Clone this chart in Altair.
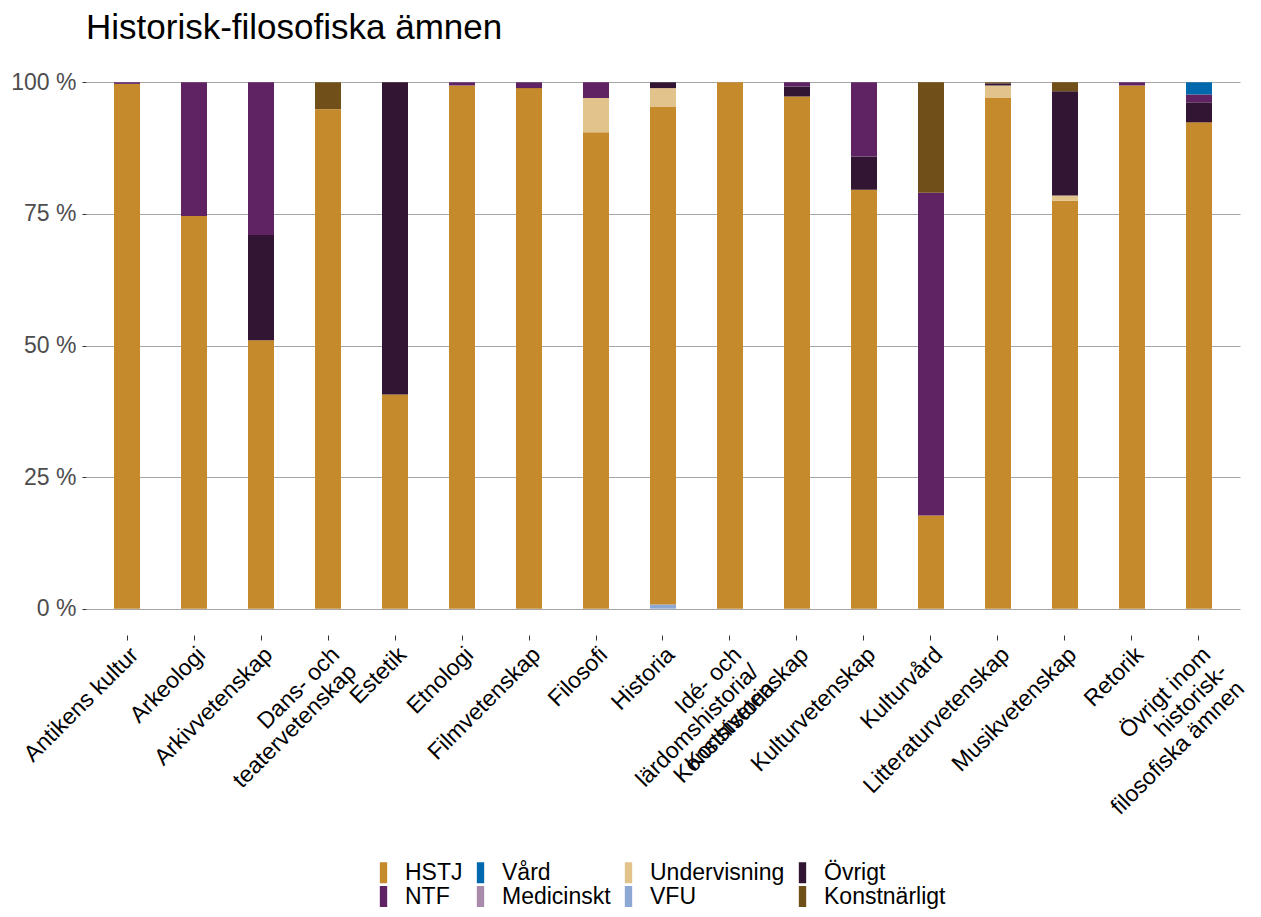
import altair as alt
import pandas as pd

categories = [
    "Antikens kultur", "Arkeologi", "Arkivvetenskap", "Dans- och|teatervetenskap",
    "Estetik", "Etnologi", "Filmvetenskap", "Filosofi", "Historia",
    "Idé- och|lärdomshistoria/|Konsthistoria", "Konstvetenskap", "Kulturvetenskap",
    "Kulturvård", "Litteraturvetenskap", "Musikvetenskap", "Retorik",
    "Övrigt inom|historisk-|filosofiska ämnen",
]

hstj         = [99.7, 74.6, 51.0, 94.9, 40.7, 99.4, 98.9, 90.5, 94.6, 100.0, 97.3, 79.6, 17.7, 97.1, 77.5, 99.4, 92.4]
ntf          = [0.3, 25.4, 29.0, 0, 0, 0.6, 1.1, 3.0, 0, 0, 0.8, 14.1, 61.3, 0, 0, 0.6, 1.5]
vard         = [0, 0, 0, 0, 0, 0, 0, 0, 0, 0, 0, 0, 0, 0, 0, 0, 2.3]
medicinskt   = [0, 0, 0, 0, 0, 0, 0, 0, 0, 0, 0, 0, 0, 0, 0, 0, 0]
undervisning = [0, 0, 0, 0, 0, 0, 0, 6.5, 3.5, 0, 0, 0, 0, 2.3, 1.0, 0, 0]
vfu          = [0, 0, 0, 0, 0, 0, 0, 0, 0.8, 0, 0, 0, 0, 0, 0, 0, 0]
ovrigt       = [0, 0, 20.0, 0, 59.3, 0, 0, 0, 1.1, 0, 1.9, 6.3, 0, 0.4, 19.8, 0, 3.8]
konstnarligt = [0, 0, 0, 5.1, 0, 0, 0, 0, 0, 0, 0, 0, 21.0, 0.2, 1.7, 0, 0]

# stacking order from bottom to top
series = [
    ("VFU", vfu),
    ("HSTJ", hstj),
    ("Medicinskt", medicinskt),
    ("Undervisning", undervisning),
    ("Övrigt", ovrigt),
    ("NTF", ntf),
    ("Vård", vard),
    ("Konstnärligt", konstnarligt),
]

legend_order = ["HSTJ", "Vård", "Undervisning", "Övrigt", "NTF", "Medicinskt", "VFU", "Konstnärligt"]
legend_colors = ["#C48A2C", "#0068AC", "#E2C38B", "#321433", "#5F2364", "#A88AAA", "#8EA8D6", "#704F18"]

rows = []
for i, (name, vals) in enumerate(series):
    for cat, v in zip(categories, vals):
        if v > 0:
            rows.append({"kat": cat, "typ": name, "andel": v, "ordning": i})
df = pd.DataFrame(rows)

FONT = "Liberation Sans"

chart = alt.Chart(df).mark_bar().encode(
    x=alt.X(
        "kat:N",
        sort=categories,
        scale=alt.Scale(paddingInner=0.612, paddingOuter=0.418),
        axis=alt.Axis(
            title=None, labelAngle=-45, labelAlign="right", labelBaseline="top",
            labelExpr="split(datum.label, '|')", labelFontSize=23, labelFont=FONT,
            labelColor="#000000", tickColor="#333333", tickSize=5, tickWidth=1,
            domain=False, labelLineHeight=24, labelPadding=3, labelOverlap=False,
            labelLimit=0,
        ),
    ),
    y=alt.Y(
        "andel:Q",
        stack="zero",
        scale=alt.Scale(domain=[-5, 105], nice=False, zero=False),
        axis=alt.Axis(
            title=None, values=[0, 25, 50, 75, 100], labelExpr="datum.value + ' %'",
            labelFontSize=23, labelFont=FONT, labelColor="#4D4D4D",
            tickColor="#333333", tickSize=4, labelPadding=6, domain=False,
            grid=True, gridColor="#A6A6A6", gridWidth=1.2,
        ),
    ),
    color=alt.Color(
        "typ:N",
        scale=alt.Scale(domain=legend_order, range=legend_colors),
        legend=alt.Legend(
            title=None, orient="none", legendX=286, legendY=805, direction="horizontal",
            columns=4, symbolType="M-0.35,-1L0.35,-1L0.35,1L-0.35,1Z", symbolSize=441,
            symbolStrokeWidth=0, labelFontSize=23, labelFont=FONT, labelColor="#000000",
            rowPadding=0, columnPadding=6, labelOffset=10,
        ),
    ),
    order=alt.Order("ordning:Q", sort="ascending"),
).properties(
    width=1154,
    height=579,
    title=alt.Title(
        "Historisk-filosofiska ämnen", anchor="start", frame="group", fontSize=35,
        font=FONT, fontWeight="normal", color="#000000", offset=10,
    ),
    autosize=alt.AutoSizeParams(type="none"),
    padding={"left": 78, "top": 48, "right": 13, "bottom": 274},
).configure_view(stroke=None)

chart.save("out.html", embed_options={"renderer": "svg", "actions": False})
